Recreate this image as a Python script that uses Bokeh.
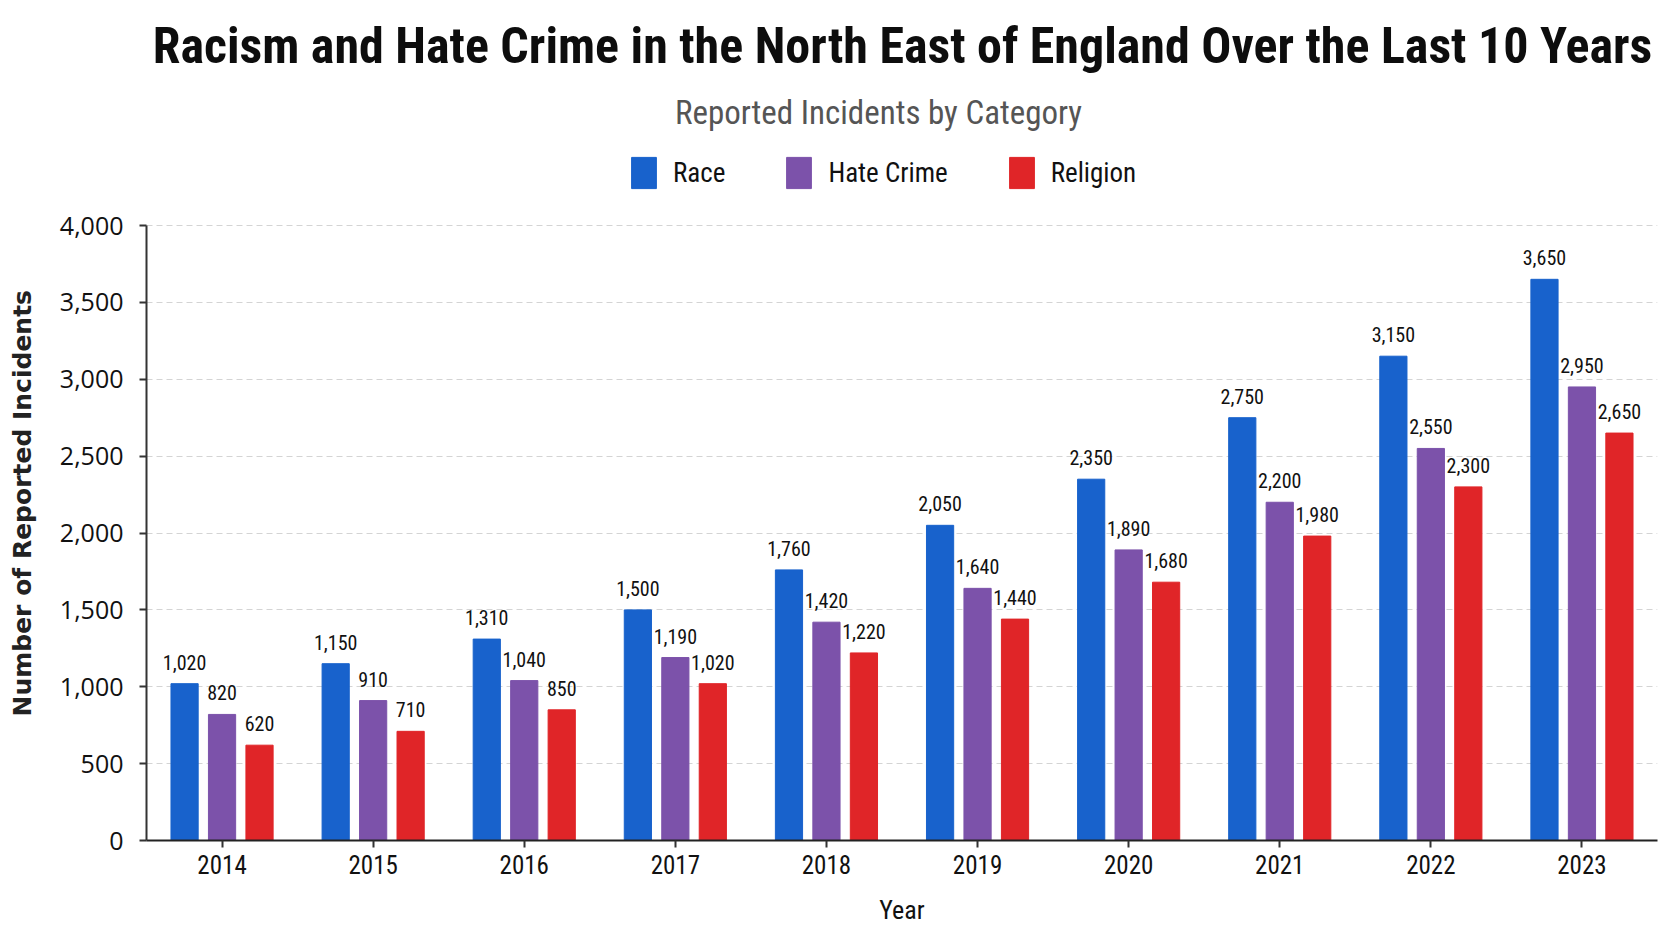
from bokeh.plotting import figure
from bokeh.models import (ColumnDataSource, FactorRange, Legend, LegendItem, Label,
                          LabelSet, NumeralTickFormatter, FixedTicker, Title)
from bokeh.core.properties import value
from bokeh.transform import dodge
from bokeh.embed import file_html
from bokeh.resources import INLINE

# ---- data ----
years = ["2014", "2015", "2016", "2017", "2018", "2019", "2020", "2021", "2022", "2023"]
race = [1020, 1150, 1310, 1500, 1760, 2050, 2350, 2750, 3150, 3650]
hate_crime = [820, 910, 1040, 1190, 1420, 1640, 1890, 2200, 2550, 2950]
religion = [620, 710, 850, 1020, 1220, 1440, 1680, 1980, 2300, 2650]
series_names = ["Race", "Hate Crime", "Religion"]
y_ticks = [0, 500, 1000, 1500, 2000, 2500, 3000, 3500, 4000]

title_text = "Racism and Hate Crime in the North East of England Over the Last 10 Years"
subtitle_text = "Reported Incidents by Category"
y_label_text = "Number of Reported Incidents"

# ---- style / layout ----
colors = ["#1862CC", "#7C52AA", "#E02528"]
offsets = [-0.248, 0.0, 0.248]
NARROW = "Roboto Condensed"
W, H = 1664, 933
FRAME_L, FRAME_R, FRAME_B = 145, 1657, 840
PX_PER_4000 = 615          # pixels between 0 and 4,000 on the value axis
y_top = 4000 * FRAME_B / PX_PER_4000   # frame extends to the top of the canvas

src = ColumnDataSource(dict(
    year=years,
    race=race, hate=hate_crime, religion=religion,
    race_t=[f"{v:,}" for v in race],
    hate_t=[f"{v:,}" for v in hate_crime],
    religion_t=[f"{v:,}" for v in religion],
))

p = figure(x_range=FactorRange(*years, range_padding=0), y_range=(0, y_top),
           width=W, height=H, output_backend="svg", toolbar_location=None,
           min_border_left=FRAME_L, min_border_right=W - FRAME_R, min_border_top=0,
           min_border_bottom=H - FRAME_B)
p.outline_line_color = None
p.background_fill_color = "white"

cols = ["race", "hate", "religion"]
items = []
for name, col, c, off in zip(series_names, cols, colors, offsets):
    r = p.vbar(x=dodge("year", off, range=p.x_range), top=col, width=0.18, source=src,
               fill_color=c, line_color=c)
    items.append(LegendItem(label=name, renderers=[r]))
    p.add_layout(LabelSet(x=dodge("year", off, range=p.x_range), y=col, text=col + "_t",
                          source=src, y_offset=14, text_align="center",
                          text_baseline="alphabetic", text_font=value(NARROW),
                          text_font_size=value("20px"), text_color=value("#111111")))

legend = Legend(items=items, orientation="horizontal", location=(482, 648),
                glyph_width=31, glyph_height=39, label_standoff=14, spacing=58,
                padding=0, margin=0, border_line_color=None, background_fill_alpha=0,
                label_text_font=NARROW, label_text_font_size="27px", label_height=39,
                label_text_color="#111111")
p.add_layout(legend, "center")

# grid
p.xgrid.grid_line_color = None
p.ygrid.grid_line_color = "#d4d4d4"
p.ygrid.grid_line_dash = "6 4"
p.ygrid.grid_line_width = 1

# y axis
p.yaxis.ticker = FixedTicker(ticks=y_ticks)
p.yaxis.bounds = (0, 4000)
p.yaxis.formatter = NumeralTickFormatter(format="0,0")
p.yaxis.axis_line_color = "#333333"
p.yaxis.axis_line_width = 2
p.yaxis.major_tick_line_color = "#333333"
p.yaxis.major_tick_line_width = 2
p.yaxis.major_tick_out = 7
p.yaxis.major_tick_in = 0
p.yaxis.minor_tick_out = 0
p.yaxis.minor_tick_in = 0
p.yaxis.major_label_standoff = 16
p.yaxis.major_label_text_font = "Open Sans"
p.yaxis.major_label_text_font_size = "25px"
p.yaxis.major_label_text_color = "#111111"
# blank axis label acts as a spacer between the tick labels and the side title
p.yaxis.axis_label = " "
p.yaxis.axis_label_text_font_size = "2px"
p.yaxis.axis_label_standoff = 10

# y axis title (as a left-side title so it can be centred on the 0-4,000 span)
p.add_layout(Title(text=y_label_text, align="left", offset=124,
                   text_font="DejaVu Sans", text_font_style="bold",
                   text_font_size="25px", text_color="#222222"), "left")

# x axis
p.xaxis.axis_line_color = "#222222"
p.xaxis.axis_line_width = 2
p.xaxis.major_tick_line_color = "#333333"
p.xaxis.major_tick_line_width = 2
p.xaxis.major_tick_out = 7
p.xaxis.major_tick_in = 0
p.xaxis.major_label_standoff = 7
p.xaxis.major_label_text_font = NARROW
p.xaxis.major_label_text_font_size = "25px"
p.xaxis.major_label_text_color = "#111111"
p.xaxis.axis_label = "Year"
p.xaxis.axis_label_text_font = NARROW
p.xaxis.axis_label_text_font_style = "normal"
p.xaxis.axis_label_text_font_size = "26px"
p.xaxis.axis_label_text_color = "#111111"
p.xaxis.axis_label_standoff = 18

# title & subtitle (screen units relative to the plot frame's bottom-left)
p.add_layout(Label(x=(FRAME_R - FRAME_L) / 2, y=795, x_units="screen", y_units="screen",
                   text=title_text, text_align="center", text_baseline="alphabetic",
                   text_font=NARROW, text_font_style="bold", text_font_size="50px",
                   text_color="#0d0d0d"))
p.add_layout(Label(x=732, y=728, x_units="screen", y_units="screen", text=subtitle_text,
                   text_align="center", text_baseline="alphabetic", text_font=NARROW,
                   text_font_size="33px", text_color="#555555"))

open("out.html", "w").write(file_html(p, INLINE))
